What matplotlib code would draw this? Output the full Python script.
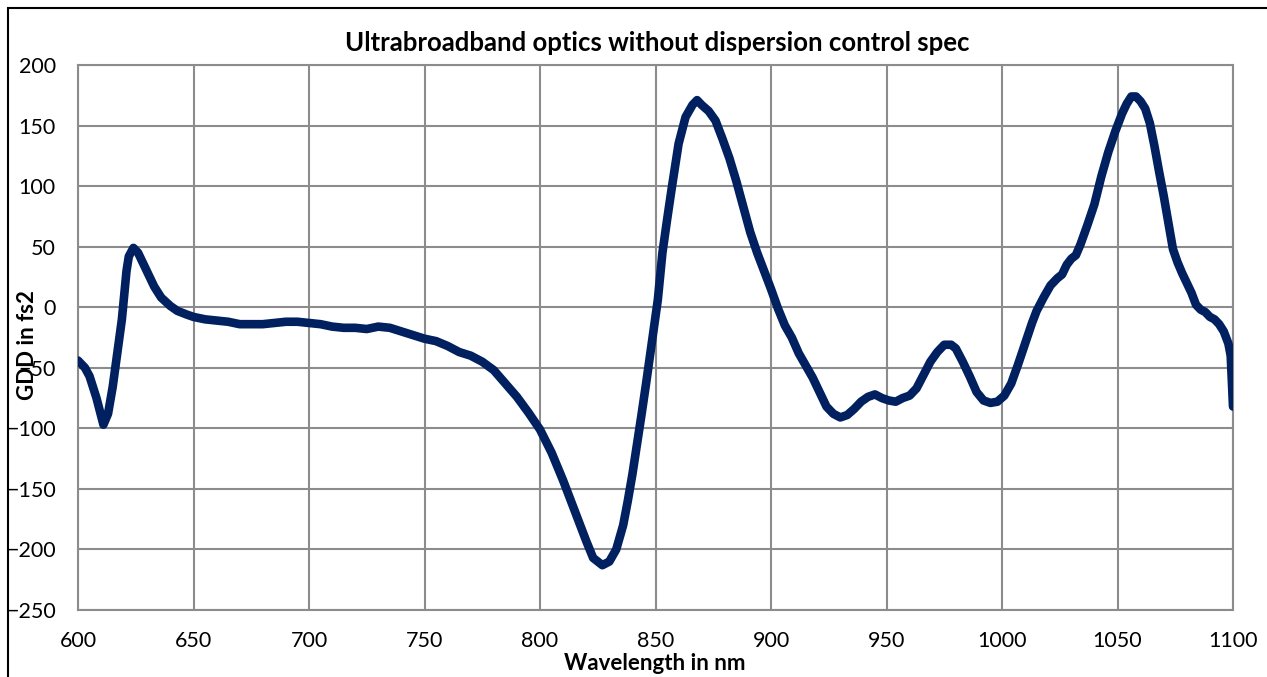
import matplotlib.pyplot as plt
from matplotlib.patches import Rectangle

# GDD curve
wavelength = [600, 603, 605, 608, 611, 613, 615, 617, 619, 621, 622, 624, 626, 628, 630,
              633, 636, 640, 643, 647, 650, 655, 660, 665, 670, 675, 680, 685, 690, 695,
              700, 705, 710, 715, 720, 725, 730, 735, 740, 745, 750, 755, 760, 765, 770,
              775, 780, 785, 790, 795, 800, 805, 810, 815, 820, 823, 827, 830, 833, 836,
              838, 840, 842, 844, 846, 848, 850, 851, 853, 855, 857, 860, 863, 866, 868,
              870, 873, 876, 879, 882, 885, 888, 891, 894, 897, 900, 903, 906, 909, 912,
              915, 918, 921, 924, 927, 930, 933, 936, 939, 942, 945, 948, 951, 954, 957,
              960, 963, 966, 969, 972, 975, 978, 980, 983, 986, 989, 992, 995, 998, 1001,
              1004, 1007, 1010, 1013, 1015, 1018, 1021, 1024, 1026, 1028, 1030, 1032, 1034,
              1037, 1040, 1043, 1046, 1049, 1052, 1054, 1056, 1058, 1060, 1062, 1064, 1066,
              1068, 1070, 1072, 1074, 1076, 1078, 1080, 1082, 1084, 1086, 1088, 1090, 1092,
              1094, 1096, 1098, 1099, 1100]
gdd = [-44, -50, -57, -75, -97, -88, -66, -38, -10, 30, 42, 49, 45, 37, 29,
       17, 8, 1, -3, -6, -8, -10, -11, -12, -14, -14, -14, -13, -12, -12,
       -13, -14, -16, -17, -17, -18, -16, -17, -20, -23, -26, -28, -32, -37, -40,
       -45, -52, -63, -74, -87, -101, -120, -143, -168, -193, -207, -213, -210, -200, -180,
       -160, -138, -113, -88, -62, -35, -8, 6, 45, 72, 98, 135, 157, 167, 171,
       167, 162, 154, 139, 123, 104, 83, 62, 45, 30, 15, -1, -15, -25, -38,
       -48, -58, -70, -82, -88, -91, -89, -84, -78, -74, -72, -75, -77, -78, -75,
       -73, -67, -56, -45, -37, -31, -31, -34, -45, -57, -70, -77, -79, -78, -73,
       -63, -47, -30, -13, -3, 8, 18, 24, 27, 35, 40, 43, 52,
       68, 85, 108, 128, 145, 160, 168, 174, 174, 170, 164, 152, 133,
       112, 92, 70, 48, 37, 28, 20, 12, 2, -2, -4, -8, -10,
       -14, -20, -30, -40, -82]

x_ticks = list(range(600, 1101, 50))
y_ticks = list(range(-250, 201, 50))

plt.rcParams['font.family'] = ['Lato', 'DejaVu Sans']

fig = plt.figure(figsize=(12.67, 6.77), dpi=100)
ax = fig.add_axes([78 / 1267, 67 / 677, (1233 - 78) / 1267, (610 - 65) / 677])

grid_col = '#8c8c8c'
ax.plot(wavelength, gdd, color='#002060', lw=6.2, solid_capstyle='round',
        solid_joinstyle='round', zorder=3)

ax.set_xlim(600, 1100)
ax.set_ylim(-250, 200)
ax.set_xticks(x_ticks)
ax.set_yticks(y_ticks)
ax.grid(True, color=grid_col, lw=1.5)
ax.set_axisbelow(True)
for s in ax.spines.values():
    s.set_color(grid_col)
    s.set_linewidth(1.5)
ax.tick_params(length=0, labelsize=15.5, pad=15)
ax.tick_params(axis='y', pad=16)

fig.text(657 / 1267, 1 - 43 / 677, 'Ultrabroadband optics without dispersion control spec',
         ha='center', va='center', fontsize=18.5, fontweight='bold')
fig.text(655 / 1267, 1 - 663 / 677, 'Wavelength in nm',
         ha='center', va='center', fontsize=16, fontweight='bold')
fig.text(28 / 1267, 1 - 345 / 677, 'GDD in fs2', rotation=90,
         ha='center', va='center', fontsize=16, fontweight='bold')

# outer chart frame (only left/top edges fall inside the image)
fig.patches.append(Rectangle((8 / 1267, -0.2), 1.2, (669 / 677) + 0.2,
                             transform=fig.transFigure, fill=False,
                             edgecolor='black', lw=1.5, clip_on=False))

fig.savefig('out.png', dpi=100, facecolor='white')
